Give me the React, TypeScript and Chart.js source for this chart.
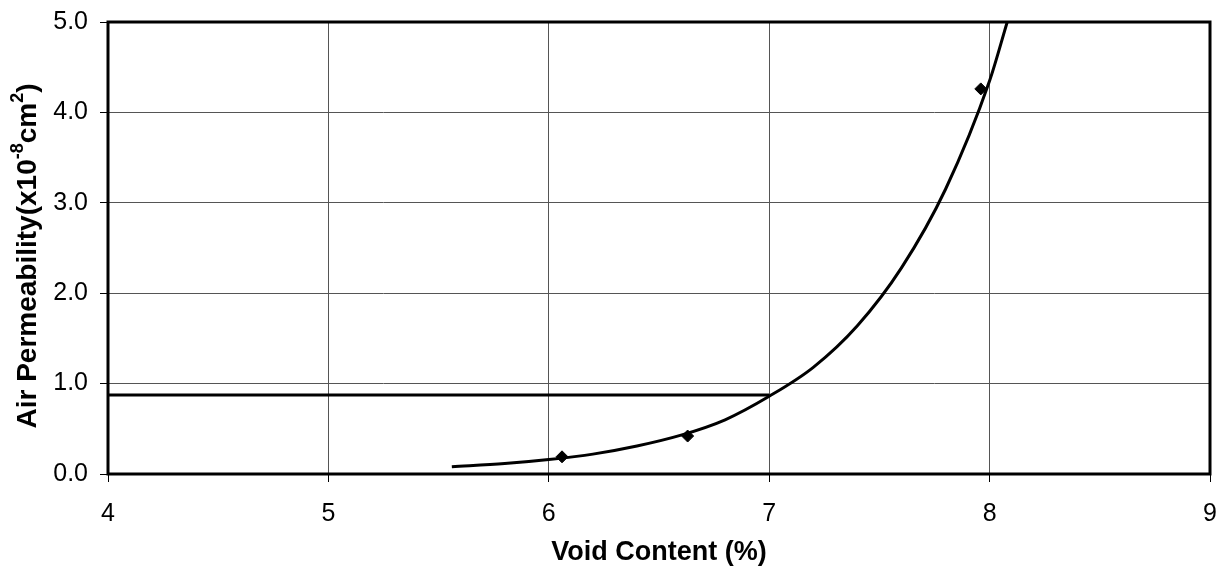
import React, { useEffect, useRef } from "react";
import { Chart, registerables } from "chart.js";

Chart.register(...registerables);

const voidContent = [6.06, 6.63, 7.96];
const permeability = [0.19, 0.42, 4.26];

const trendX = [5.56, 5.8, 6.0, 6.2, 6.4, 6.6, 6.8, 7.0, 7.2, 7.4, 7.6, 7.8, 8.0, 8.08];
const trendY = [0.08, 0.115, 0.16, 0.22, 0.31, 0.43, 0.6, 0.86, 1.18, 1.64, 2.28, 3.15, 4.35, 5.0];

const refLineX = [4, 7];
const refLineY = [0.875, 0.875];

const xTitle = "Void Content (%)";
// y title parts: [text, isSuperscript]
const yTitleParts: [string, boolean][] = [
  ["Air Permeability(x10", false],
  ["-8", true],
  ["cm", false],
  ["2", true],
  [")", false],
];

const FONT = "'Liberation Sans', Arial, 'DejaVu Sans', sans-serif";

const framePlugin = {
  id: "frame",
  afterDatasetsDraw(chart: any) {
    const { ctx, chartArea } = chart;
    ctx.save();
    ctx.strokeStyle = "#000";
    ctx.lineWidth = 3;
    ctx.strokeRect(chartArea.left, chartArea.top, chartArea.right - chartArea.left, chartArea.bottom - chartArea.top);
    ctx.restore();
  },
};

const yTitlePlugin = {
  id: "yTitle",
  afterDraw(chart: any) {
    const { ctx, chartArea } = chart;
    const mainFont = `bold 28px ${FONT}`;
    const supFont = `bold 18px ${FONT}`;
    ctx.save();
    let total = 0;
    for (const [t, sup] of yTitleParts) {
      ctx.font = sup ? supFont : mainFont;
      total += ctx.measureText(t).width;
    }
    const cy = (chartArea.top + chartArea.bottom) / 2 + 8;
    ctx.translate(36, cy);
    ctx.rotate(-Math.PI / 2);
    ctx.fillStyle = "#000";
    ctx.textBaseline = "alphabetic";
    ctx.textAlign = "left";
    let x = -total / 2;
    for (const [t, sup] of yTitleParts) {
      ctx.font = sup ? supFont : mainFont;
      ctx.fillText(t, x, sup ? -13 : 0);
      x += ctx.measureText(t).width;
    }
    ctx.restore();
  },
};

export default function App() {
  const ref = useRef<HTMLCanvasElement>(null);

  useEffect(() => {
    const canvas = ref.current;
    if (!canvas) return;
    const chart = new Chart(canvas, {
      type: "scatter",
      data: {
        datasets: [
          {
            label: "Reference",
            data: refLineX.map((x, i) => ({ x, y: refLineY[i] })),
            showLine: true,
            borderColor: "#000",
            borderWidth: 3,
            pointRadius: 0,
          },
          {
            label: "Trend",
            data: trendX.map((x, i) => ({ x, y: trendY[i] })),
            showLine: true,
            borderColor: "#000",
            borderWidth: 3,
            pointRadius: 0,
            cubicInterpolationMode: "monotone",
          },
          {
            label: "Measured",
            data: voidContent.map((x, i) => ({ x, y: permeability[i] })),
            showLine: false,
            pointStyle: "rectRot",
            pointRadius: 6,
            backgroundColor: "#000",
            borderColor: "#000",
          },
        ],
      },
      options: {
        animation: false,
        responsive: false,
        maintainAspectRatio: false,
        layout: { padding: { top: 22, right: 8, left: 0, bottom: 0 } },
        plugins: {
          legend: { display: false },
          tooltip: { enabled: false },
        },
        scales: {
          x: {
            type: "linear",
            min: 4,
            max: 9,
            ticks: {
              stepSize: 1,
              color: "#000",
              font: { family: FONT, size: 25 },
              padding: 17,
              maxRotation: 0,
              minRotation: 0,
            },
            grid: { color: "#555", lineWidth: 1, tickLength: 8, tickColor: "#000" },
            border: { display: false },
            title: {
              display: true,
              text: xTitle,
              color: "#000",
              font: { family: FONT, size: 27, weight: "bold" },
              padding: { top: 4, bottom: 2 },
            },
            afterFit: (scale: any) => {
              scale.height = 97;
              scale.paddingLeft = 0;
              scale.paddingRight = 0;
            },
          },
          y: {
            type: "linear",
            min: 0,
            max: 5,
            ticks: {
              stepSize: 1,
              color: "#000",
              font: { family: FONT, size: 25 },
              padding: 12,
              callback: (v: any) => Number(v).toFixed(1),
            },
            grid: { color: "#555", lineWidth: 1, tickLength: 8, tickColor: "#000" },
            border: { display: false },
            afterFit: (scale: any) => {
              scale.width = 108;
              scale.paddingTop = 0;
              scale.paddingBottom = 0;
            },
          },
        },
      },
      plugins: [framePlugin, yTitlePlugin],
    });
    return () => chart.destroy();
  }, []);

  return (
    <div style={{ position: "fixed", left: 0, top: 0, width: 1218, height: 571, background: "#fff" }}>
      <canvas ref={ref} width={1218} height={571} style={{ display: "block" }} />
    </div>
  );
}
